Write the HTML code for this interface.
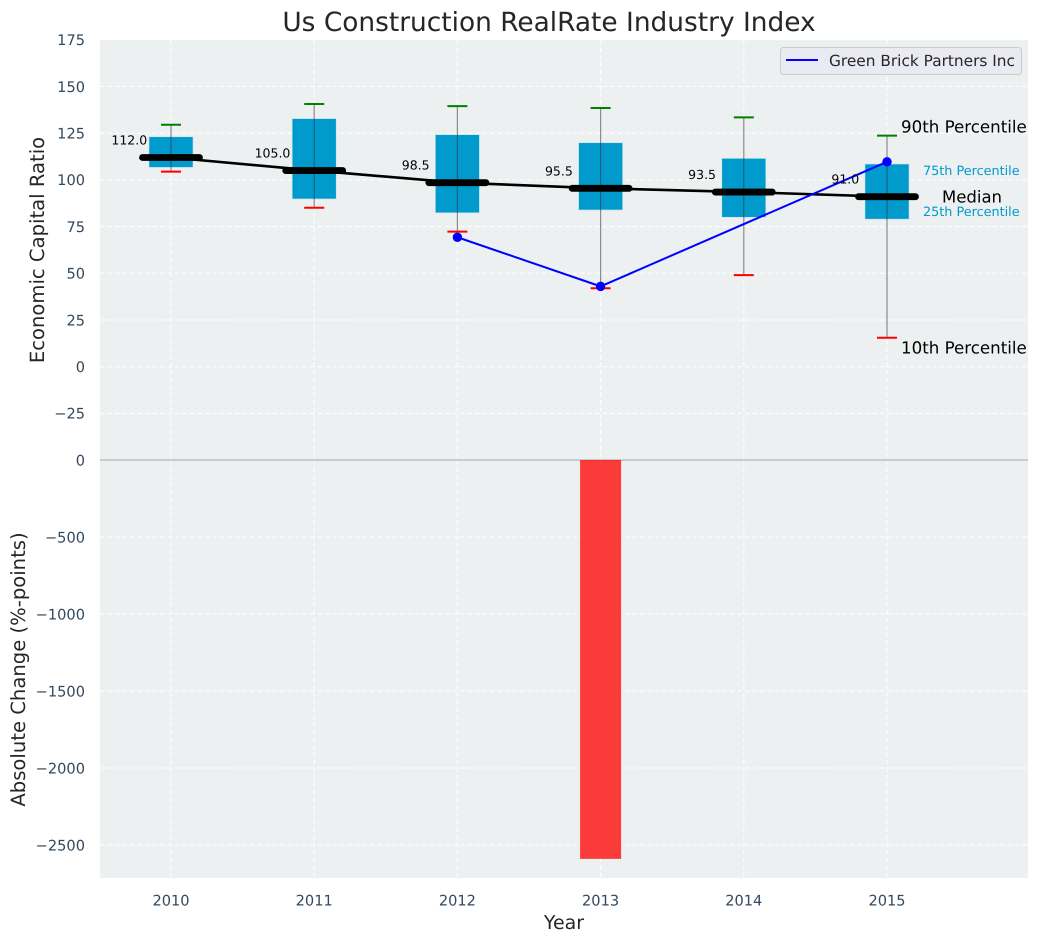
<!DOCTYPE html>
<html lang="en">
<head>
<meta charset="utf-8">
<title>Us Construction RealRate Industry Index</title>
<style>
html,body{margin:0;padding:0;background:#fff;width:1039px;height:942px;overflow:hidden}
svg{display:block;font-family:"DejaVu Sans","Liberation Sans",sans-serif;text-rendering:geometricPrecision}
</style>
</head>
<body>
<svg id="chart" xmlns="http://www.w3.org/2000/svg" width="1039" height="942" viewBox="0 0 1039 942">
  <rect x="0" y="0" width="1039" height="942" fill="#ffffff"/>
  <rect x="100" y="40" width="928" height="838" fill="#ecf0f1"/>
  <g id="grid"></g>
  <g id="marks"></g>
  <g id="ticks"></g>
  <text x="549" y="31" text-anchor="middle" font-size="26.4" fill="#262626">Us Construction RealRate Industry Index</text>
  <text transform="translate(44,250) rotate(-90)" text-anchor="middle" font-size="19.6" fill="#262626">Economic Capital Ratio</text>
  <text transform="translate(25,669.5) rotate(-90)" text-anchor="middle" font-size="19.6" fill="#262626">Absolute Change (%-points)</text>
  <text x="564" y="929" text-anchor="middle" font-size="19" fill="#262626">Year</text>
  <g>
    <rect x="780.5" y="47.5" width="241" height="27" rx="3" fill="#eaeaf2" stroke="#cccccc" stroke-width="1"/>
    <line x1="786" y1="60" x2="818" y2="60" stroke="#0000ff" stroke-width="2"/>
    <text x="829" y="66" font-size="15.35" fill="#262626">Green Brick Partners Inc</text>
  </g>
</svg>
<script>
const years = [2010, 2011, 2012, 2013, 2014, 2015];
const p90 = [129.5, 140.6, 139.5, 138.5, 133.5, 123.7];
const p75 = [123.1, 132.8, 124.2, 119.9, 111.5, 108.5];
const medians = [112, 105, 98.5, 95.5, 93.5, 91];
const p25 = [106.7, 89.8, 82.4, 83.9, 80, 79];
const p10 = [104.4, 85.1, 72.3, 42, 49, 15.5];
const companyName = ["Green Brick Partners Inc"];
const companyValues = [null, null, 69.3, 43, null, 109.7];
const absoluteChange = [0, 0, 0, -2590, 0, 0];
const upperTicks = [175, 150, 125, 100, 75, 50, 25, 0, -25];
const lowerTicks = [0, -500, -1000, -1500, -2000, -2500];

const SVGNS = 'http://www.w3.org/2000/svg';
const xOf = function (year) { return 171 + (year - 2010) * 143.2; };
const yUp = function (v) { return 366.7 - v * 1.868; };
const yLow = function (v) { return 460 - v * 0.154; };
const fmt = function (v) { return v < 0 ? '\u2212' + Math.abs(v) : String(v); };

function mk(tag, attrs, parent, text) {
  const el = document.createElementNS(SVGNS, tag);
  for (const k in attrs) { el.setAttribute(k, attrs[k]); }
  if (text !== undefined) { el.textContent = text; }
  parent.appendChild(el);
  return el;
}
const grid = document.getElementById('grid');
const marks = document.getElementById('marks');
const ticks = document.getElementById('ticks');
const dash = '4.5 3';

upperTicks.forEach(function (t) {
  const g = mk('line', {x1: 100, x2: 1028, y1: yUp(t), y2: yUp(t), stroke: '#ffffff', 'stroke-width': 1, 'stroke-dasharray': dash}, grid);
  
  
  const l = mk('text', {x: 85, y: yUp(t) + 5.3, 'text-anchor': 'end', 'font-size': 14.58, fill: '#34495e'}, ticks, fmt(t));
  
  
});
lowerTicks.forEach(function (t) {
  const l = mk('text', {x: 85, y: yLow(t) + 5.3, 'text-anchor': 'end', 'font-size': 14.58, fill: '#34495e'}, ticks, fmt(t));
  
  
  if (t !== 0) {
    const g = mk('line', {x1: 100, x2: 1028, y1: yLow(t), y2: yLow(t), stroke: '#ffffff', 'stroke-width': 1, 'stroke-dasharray': dash}, grid);
    
    
  }
});
years.forEach(function (y) {
  const g = mk('line', {x1: xOf(y), x2: xOf(y), y1: 40, y2: 878, stroke: '#ffffff', 'stroke-width': 1, 'stroke-dasharray': dash}, grid);
  
  
  const l = mk('text', {x: xOf(y), y: 905.5, 'text-anchor': 'middle', 'font-size': 14.58, fill: '#34495e'}, ticks, String(y));
  
  
});

const divider = mk('line', {x1: 100, x2: 1028, y1: yLow(0), y2: yLow(0), stroke: '#bdbdbd', 'stroke-width': 1.5}, marks);



years.forEach(function (y, i) {
  const top = yLow(Math.max(absoluteChange[i], 0));
  const bottom = yLow(Math.min(absoluteChange[i], 0));
  if (bottom - top > 0) {
    const bar = mk('rect', {x: xOf(y) - 20.5, y: top, width: 41, height: bottom - top, fill: '#ff0000', 'fill-opacity': 0.76}, marks);
    
    
  }
});

years.forEach(function (y, i) {
  const box = mk('rect', {x: xOf(y) - 22, y: yUp(p75[i]), width: 44, height: yUp(p25[i]) - yUp(p75[i]), fill: '#009acd', stroke: '#bfe4f0', 'stroke-width': 0.6}, marks);
  
  
  const w = mk('line', {x1: xOf(y), x2: xOf(y), y1: yUp(p90[i]), y2: yUp(p10[i]), stroke: '#333333', 'stroke-opacity': 0.55, 'stroke-width': 1.2}, marks);
  
  
  const c1 = mk('line', {x1: xOf(y) - 10, x2: xOf(y) + 10, y1: yUp(p90[i]), y2: yUp(p90[i]), stroke: '#008000', 'stroke-width': 2}, marks);
  
  
  const c2 = mk('line', {x1: xOf(y) - 10, x2: xOf(y) + 10, y1: yUp(p10[i]), y2: yUp(p10[i]), stroke: '#ff0000', 'stroke-width': 2}, marks);
  
  
});

const medianPts = years.map(function (y, i) { return xOf(y) + ',' + yUp(medians[i]); }).join(' ');
const medianLine = mk('polyline', {points: medianPts, fill: 'none', stroke: '#000000', 'stroke-width': 2.6}, marks);



years.forEach(function (y, i) {
  const m = mk('line', {x1: xOf(y) - 28.5, x2: xOf(y) + 28.5, y1: yUp(medians[i]), y2: yUp(medians[i]), stroke: '#000000', 'stroke-width': 6.8, 'stroke-linecap': 'round'}, marks);
  
  
});

const companyPts = years.map(function (y, i) { return companyValues[i] === null ? null : xOf(y) + ',' + yUp(companyValues[i]); }).filter(Boolean).join(' ');
const companyLine = mk('polyline', {points: companyPts, fill: 'none', stroke: '#0000ff', 'stroke-width': 2}, marks);


years.forEach(function (y, i) {
  if (companyValues[i] !== null) {
    const p = mk('circle', {cx: xOf(y), cy: yUp(companyValues[i]), r: 4.7, fill: '#0000ff'}, marks);
    
    
  }
});

years.forEach(function (y, i) {
  const t = mk('text', {x: xOf(y) - 41.7, y: yUp(medians[i]) - 13, 'text-anchor': 'middle', 'font-size': 12.5, fill: '#000000'}, marks, medians[i].toFixed(1));
  
  
});

const last = years.length - 1;
const ax = xOf(years[last]);
const a90 = mk('text', {x: ax + 14, y: yUp(p90[last]) - 3.3, 'font-size': 16.67, fill: '#000000'}, marks, '90th Percentile');


const a75 = mk('text', {x: ax + 36, y: yUp(p75[last]) + 11, 'font-size': 12.8, fill: '#009acd'}, marks, '75th Percentile');


const aMed = mk('text', {x: ax + 55, y: yUp(medians[last]) + 6, 'font-size': 16.5, fill: '#000000'}, marks, 'Median');


const a25 = mk('text', {x: ax + 36, y: yUp(p25[last]) - 3, 'font-size': 12.8, fill: '#009acd'}, marks, '25th Percentile');


const a10 = mk('text', {x: ax + 14, y: yUp(p10[last]) + 16, 'font-size': 16.67, fill: '#000000'}, marks, '10th Percentile');


</script>
</body>
</html>
